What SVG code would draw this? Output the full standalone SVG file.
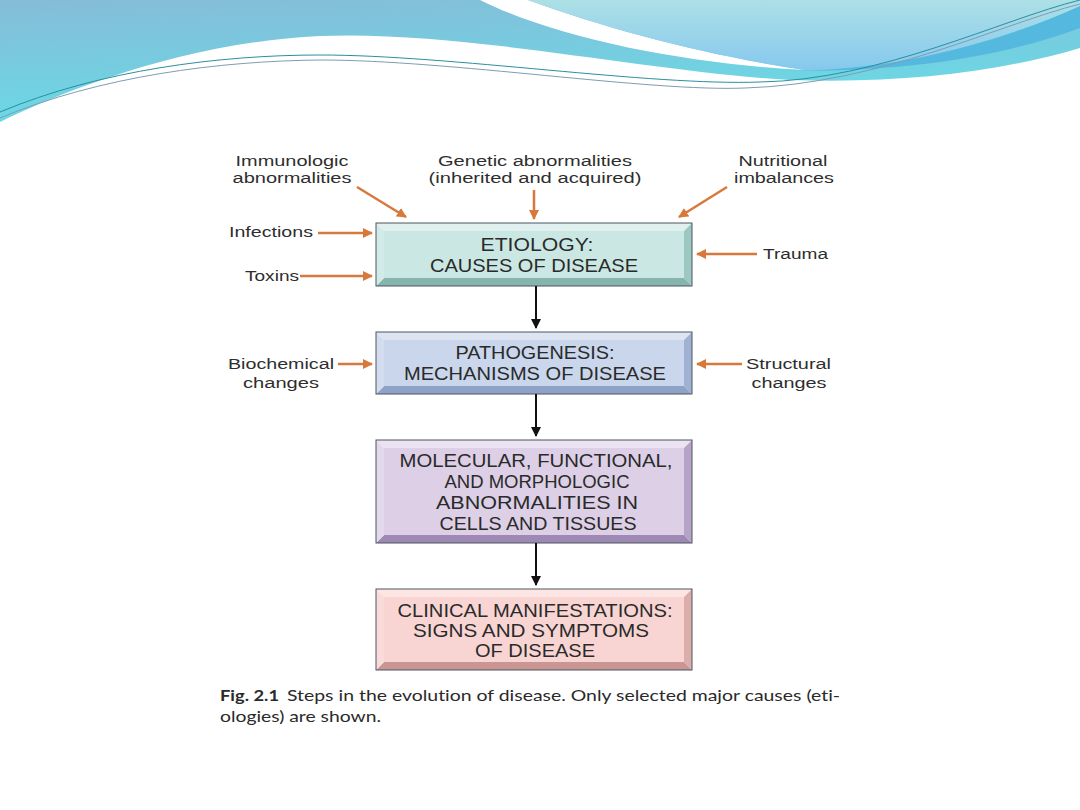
<svg xmlns="http://www.w3.org/2000/svg" width="1080" height="810" viewBox="0 0 1080 810">
<defs>
<linearGradient id="gMain" x1="0" y1="0" x2="0.3" y2="1">
<stop offset="0" stop-color="#86bcd8"/>
<stop offset="1" stop-color="#68dbe6"/>
</linearGradient>
<linearGradient id="gRight" x1="0" y1="0" x2="0" y2="1">
<stop offset="0" stop-color="#ade0e6"/>
<stop offset="1" stop-color="#86c8ee"/>
</linearGradient>
<marker id="ao" viewBox="0 0 10 10" refX="9" refY="5" markerWidth="4" markerHeight="4" markerUnits="strokeWidth" orient="auto">
<path d="M0,0 L10,5 L0,10 Z" fill="#d8793c"/>
</marker>
<marker id="ab" viewBox="0 0 10 10" refX="9" refY="5" markerWidth="5" markerHeight="5" markerUnits="strokeWidth" orient="auto">
<path d="M0,0 L10,5 L0,10 Z" fill="#111"/>
</marker>
</defs>
<style>
.lbl{font-family:"Liberation Sans",Arial,sans-serif;font-size:15.5px;fill:#2e2e2e}
.bx{font-family:"Liberation Sans",Arial,sans-serif;font-size:17.5px;fill:#2a2a2a;text-anchor:middle}
.cap{font-family:Lato,"Open Sans",sans-serif;font-size:15px;fill:#2a2a2a;font-variant-ligatures:none}
.oa{stroke:#d8793c;stroke-width:2.5;fill:none;marker-end:url(#ao)}
.ba{stroke:#111;stroke-width:2;fill:none;marker-end:url(#ab)}
.edge{fill:none;stroke:#4d5660;stroke-width:1}
</style>
<rect width="1080" height="810" fill="#ffffff"/>
<g id="header">
<path d="M0,0 H1080 V48 C1000,72 900,84 790,80 C650,72 460,30 320,36 C190,42 70,88 0,122 Z" fill="url(#gMain)"/>
<path d="M480,0 C560,40 690,64 805,70 C710,56 610,30 528,0 Z" fill="#ffffff"/>
<path d="M528,0 C610,30 710,56 805,70 C900,70 1000,40 1080,8 V0 Z" fill="url(#gRight)"/>
<path d="M790,71 C900,70 1000,42 1080,6 V28 C1000,58 900,72 790,71 Z" fill="#55b9df"/>
<path d="M0,112 C100,70 220,55 320,55 C450,55 650,86 760,82 C880,80 1000,20 1080,0" fill="none" stroke="#2a8fa0" stroke-width="1"/>
<path d="M0,118 C100,76 220,61 320,60 C450,60 650,92 745,88 C880,84 1000,24 1080,4" fill="none" stroke="#7e9db2" stroke-width="1"/>
</g>
<g id="labels">
<text class="lbl" x="292" y="166" text-anchor="middle" textLength="113" lengthAdjust="spacingAndGlyphs">Immunologic</text>
<text class="lbl" x="292" y="183" text-anchor="middle" textLength="119" lengthAdjust="spacingAndGlyphs">abnormalities</text>
<text class="lbl" x="535" y="166" text-anchor="middle" textLength="194" lengthAdjust="spacingAndGlyphs">Genetic abnormalities</text>
<text class="lbl" x="535" y="183" text-anchor="middle" textLength="213" lengthAdjust="spacingAndGlyphs">(inherited and acquired)</text>
<text class="lbl" x="783" y="166" text-anchor="middle" textLength="89" lengthAdjust="spacingAndGlyphs">Nutritional</text>
<text class="lbl" x="784" y="183" text-anchor="middle" textLength="100" lengthAdjust="spacingAndGlyphs">imbalances</text>
<text class="lbl" x="229" y="237" textLength="84" lengthAdjust="spacingAndGlyphs">Infections</text>
<text class="lbl" x="245" y="281" textLength="54" lengthAdjust="spacingAndGlyphs">Toxins</text>
<text class="lbl" x="763" y="259" textLength="65" lengthAdjust="spacingAndGlyphs">Trauma</text>
<text class="lbl" x="228" y="369" textLength="106" lengthAdjust="spacingAndGlyphs">Biochemical</text>
<text class="lbl" x="281" y="388" text-anchor="middle" textLength="76" lengthAdjust="spacingAndGlyphs">changes</text>
<text class="lbl" x="746" y="369" textLength="85" lengthAdjust="spacingAndGlyphs">Structural</text>
<text class="lbl" x="789" y="388" text-anchor="middle" textLength="75" lengthAdjust="spacingAndGlyphs">changes</text>
</g>
<g id="etiology">
<polygon points="376,223 692,223 684,231 384,231" fill="#dff0ee"/>
<polygon points="692,223 692,286 684,278 684,231" fill="#9dc8c2"/>
<polygon points="376,286 692,286 684,278 384,278" fill="#85b5ad"/>
<polygon points="376,223 384,231 384,278 376,286" fill="#d3ebe8"/>
<rect x="384" y="231" width="300" height="47" fill="#cae7e3"/>
<rect class="edge" x="376" y="223" width="316" height="63"/>
<text class="bx" x="537" y="251" textLength="113" lengthAdjust="spacingAndGlyphs">ETIOLOGY:</text>
<text class="bx" x="534" y="272" textLength="208" lengthAdjust="spacingAndGlyphs">CAUSES OF DISEASE</text>
</g>
<g id="pathogenesis">
<polygon points="376,332 692,332 684,340 384,340" fill="#dde5f3"/>
<polygon points="692,332 692,394 684,386 684,340" fill="#9fb2d3"/>
<polygon points="376,394 692,394 684,386 384,386" fill="#8fa2c7"/>
<polygon points="376,332 384,340 384,386 376,394" fill="#d3ddef"/>
<rect x="384" y="340" width="300" height="46" fill="#c9d6eb"/>
<rect class="edge" x="376" y="332" width="316" height="62"/>
<text class="bx" x="535" y="359" textLength="159" lengthAdjust="spacingAndGlyphs">PATHOGENESIS:</text>
<text class="bx" x="535" y="380" textLength="262" lengthAdjust="spacingAndGlyphs">MECHANISMS OF DISEASE</text>
</g>
<g id="abnormalities">
<polygon points="376,440 692,440 684,448 384,448" fill="#ece3f2"/>
<polygon points="692,440 692,543 684,535 684,448" fill="#b6a3c7"/>
<polygon points="376,543 692,543 684,535 384,535" fill="#9e89b4"/>
<polygon points="376,440 384,448 384,535 376,543" fill="#e3d9ec"/>
<rect x="384" y="448" width="300" height="87" fill="#dccfe6"/>
<rect class="edge" x="376" y="440" width="316" height="103"/>
<text class="bx" x="536" y="467" textLength="273" lengthAdjust="spacingAndGlyphs">MOLECULAR, FUNCTIONAL,</text>
<text class="bx" x="537" y="488" textLength="185" lengthAdjust="spacingAndGlyphs">AND MORPHOLOGIC</text>
<text class="bx" x="537" y="509" textLength="202" lengthAdjust="spacingAndGlyphs">ABNORMALITIES IN</text>
<text class="bx" x="538" y="530" textLength="197" lengthAdjust="spacingAndGlyphs">CELLS AND TISSUES</text>
</g>
<g id="clinical">
<polygon points="376,589 692,589 684,597 384,597" fill="#fce5e3"/>
<polygon points="692,589 692,670 684,662 684,597" fill="#dcaeab"/>
<polygon points="376,670 692,670 684,662 384,662" fill="#c99693"/>
<polygon points="376,589 384,597 384,662 376,670" fill="#f9dcda"/>
<rect x="384" y="597" width="300" height="65" fill="#f8d5d3"/>
<rect class="edge" x="376" y="589" width="316" height="81"/>
<text class="bx" x="535" y="617" textLength="275" lengthAdjust="spacingAndGlyphs">CLINICAL MANIFESTATIONS:</text>
<text class="bx" x="531" y="637" textLength="236" lengthAdjust="spacingAndGlyphs">SIGNS AND SYMPTOMS</text>
<text class="bx" x="535" y="657" textLength="120" lengthAdjust="spacingAndGlyphs">OF DISEASE</text>
</g>
<g id="connectors">
<line class="oa" x1="357" y1="187" x2="406" y2="217"/>
<line class="oa" x1="534" y1="190" x2="534" y2="219"/>
<line class="oa" x1="727" y1="187" x2="679" y2="217"/>
<line class="oa" x1="318" y1="233" x2="372" y2="233"/>
<line class="oa" x1="300" y1="276" x2="372" y2="276"/>
<line class="oa" x1="757" y1="254" x2="697" y2="254"/>
<line class="oa" x1="338" y1="364" x2="372" y2="364"/>
<line class="oa" x1="742" y1="364" x2="697" y2="364"/>
<line class="ba" x1="536" y1="286" x2="536" y2="328"/>
<line class="ba" x1="536" y1="394" x2="536" y2="436"/>
<line class="ba" x1="536" y1="543" x2="536" y2="585"/>
</g>
<g id="caption">
<text class="cap" x="220" y="701" font-weight="bold" textLength="59" lengthAdjust="spacingAndGlyphs">Fig. 2.1</text>
<text class="cap" x="287" y="701" textLength="553" lengthAdjust="spacingAndGlyphs">Steps in the evolution of disease. Only selected major causes (eti-</text>
<text class="cap" x="220" y="722" textLength="161" lengthAdjust="spacingAndGlyphs">ologies) are shown.</text>
</g>
</svg>
